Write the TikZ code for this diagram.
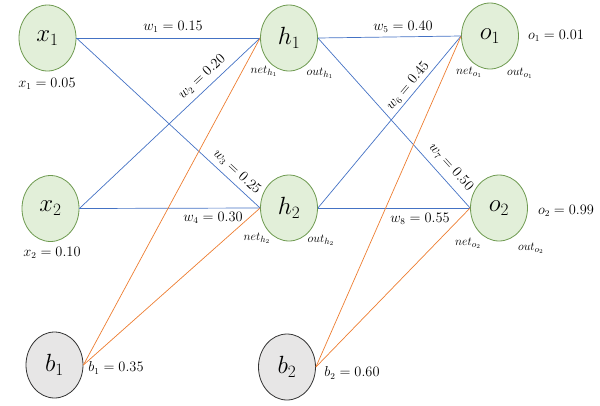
\documentclass[tikz,border=0pt]{standalone}
\usetikzlibrary{shapes.geometric}
\definecolor{gfill}{HTML}{E2EFD9}
\definecolor{gdraw}{HTML}{6E9A50}
\definecolor{bfill}{HTML}{E7E6E6}
\definecolor{bline}{HTML}{4472C4}
\definecolor{oline}{HTML}{ED7D31}
\tikzset{
  neuron/.style={ellipse, draw=gdraw, fill=gfill, line width=0.8pt, minimum width=57pt, minimum height=66pt, inner sep=0pt, font=\fontsize{27}{29}\selectfont},
  bias/.style={ellipse, draw=black!80, fill=bfill, line width=0.8pt, minimum width=57pt, minimum height=66pt, inner sep=0pt, font=\fontsize{27}{29}\selectfont},
  wline/.style={draw=bline, line width=0.7pt},
  bwire/.style={draw=oline, line width=0.7pt},
  lab/.style={inner sep=0pt, font=\fontsize{13.5}{15}\selectfont},
  sublab/.style={inner sep=0pt, font=\fontsize{12.5}{14}\selectfont}
}
\begin{document}
\begin{tikzpicture}[x=1pt,y=-1pt]
\useasboundingbox (0,0) rectangle (600,405);
% nodes
\node[neuron] (x1) at (47.5,38) {$x_1$};
\node[neuron] (x2) at (50.5,208.5) {$x_2$};
\node[neuron] (h1) at (289,38) {$h_1$};
\node[neuron] (h2) at (289,208) {$h_2$};
\node[neuron] (o1) at (490,36) {$o_1$};
\node[neuron] (o2) at (499,208) {$o_2$};
\node[bias] (b1) at (54.5,365) {$b_1$};
\node[bias] (b2) at (287,367) {$b_2$};
% connectors
\draw[wline] (x1.east) -- (h1.west);
\draw[wline] (x1.east) -- (h2.west);
\draw[wline] (x2.east) -- (h1.west);
\draw[wline] (x2.east) -- (h2.west);
\draw[wline] (h1.east) -- (o1.west);
\draw[wline] (h1.east) -- (o2.west);
\draw[wline] (h2.east) -- (o1.west);
\draw[wline] (h2.east) -- (o2.west);
\draw[bwire] (b1.east) -- (h1.west);
\draw[bwire] (b1.east) -- (h2.west);
\draw[bwire] (b2.east) -- (o1.west);
\draw[bwire] (b2.east) -- (o2.west);
% weight labels
\node[lab] (lw1) at (173,27) {$w_1 = 0.15$};
\node[lab,rotate=43] (lw2) at (202,77) {$w_2 = 0.20$};
\node[lab,rotate=-43] (lw3) at (237,172) {$w_3 = 0.25$};
\node[lab] (lw4) at (213,218) {$w_4 = 0.30$};
\node[lab] (lw5) at (403,27) {$w_5 = 0.40$};
\node[lab,rotate=50] (lw6) at (408,86) {$w_6 = 0.45$};
\node[lab,rotate=-48] (lw7) at (451,167) {$w_7 = 0.50$};
\node[lab] (lw8) at (420,219) {$w_8 = 0.55$};
% value labels
\node[lab] (vx1) at (47,84) {$x_1 = 0.05$};
\node[lab] (vx2) at (52,253) {$x_2 = 0.10$};
\node[lab] (vo1) at (556,36) {$o_1 = 0.01$};
\node[lab] (vo2) at (566,211) {$o_2 = 0.99$};
\node[lab] (vb1) at (116,368) {$b_1 = 0.35$};
\node[lab] (vb2) at (352,373) {$b_2 = 0.60$};
% net / out labels
\node[sublab] (nh1) at (264,71) {$net_{h_1}$};
\node[sublab] (oh1) at (320,73) {$out_{h_1}$};
\node[sublab] (no1) at (469,72) {$net_{o_1}$};
\node[sublab] (oo1) at (520,73) {$out_{o_1}$};
\node[sublab] (nh2) at (257,238) {$net_{h_2}$};
\node[sublab] (oh2) at (321,240) {$out_{h_2}$};
\node[sublab] (no2) at (468,243) {$net_{o_2}$};
\node[sublab] (oo2) at (531,248) {$out_{o_2}$};
\end{tikzpicture}
\end{document}
